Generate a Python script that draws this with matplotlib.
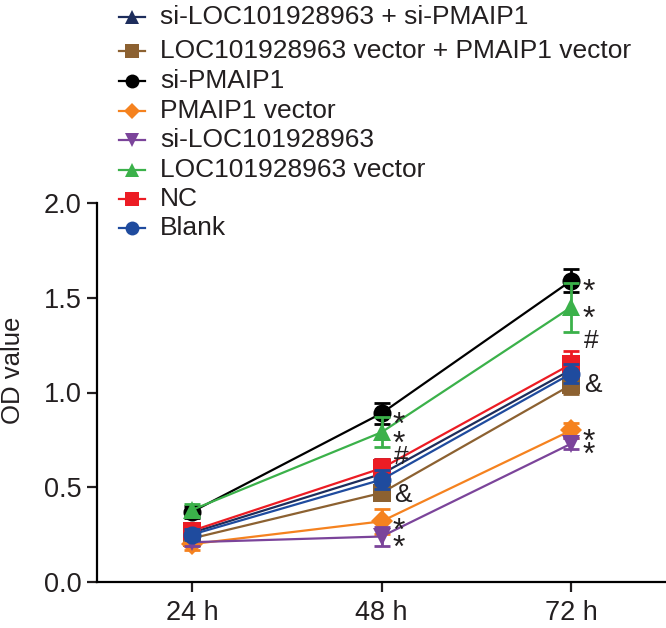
import matplotlib
matplotlib.use("Agg")
import matplotlib.pyplot as plt
from matplotlib.lines import Line2D
import numpy as np

plt.rcParams['font.family'] = ['Liberation Sans', 'DejaVu Sans']

time_labels = ["24 h", "48 h", "72 h"]

series_names = [
    "si-LOC101928963 + si-PMAIP1",
    "LOC101928963 vector + PMAIP1 vector",
    "si-PMAIP1",
    "PMAIP1 vector",
    "si-LOC101928963",
    "LOC101928963 vector",
    "NC",
    "Blank",
]

si_both = [0.26, 0.57, 1.12]
vec_both = [0.23, 0.47, 1.04]
si_pmaip1 = [0.37, 0.89, 1.59]
pmaip1_vec = [0.20, 0.32, 0.80]
si_loc = [0.21, 0.24, 0.73]
loc_vec = [0.38, 0.79, 1.45]
nc = [0.27, 0.60, 1.15]
blank = [0.25, 0.54, 1.10]

si_both_err = [0.03, 0.08, 0.06]
vec_both_err = [0.03, 0.03, 0.05]
si_pmaip1_err = [0.03, 0.055, 0.06]
pmaip1_vec_err = [0.03, 0.065, 0.04]
si_loc_err = [0.02, 0.05, 0.03]
loc_vec_err = [0.03, 0.08, 0.13]
nc_err = [0.03, 0.05, 0.07]
blank_err = [0.03, 0.05, 0.05]

values = [si_both, vec_both, si_pmaip1, pmaip1_vec, si_loc, loc_vec, nc, blank]
errors = [si_both_err, vec_both_err, si_pmaip1_err, pmaip1_vec_err,
          si_loc_err, loc_vec_err, nc_err, blank_err]

colors = ["#1d2d5c", "#8c6131", "#000000", "#f5821f", "#7b449a", "#3bb14a", "#ec1c24", "#1f4b9e"]
markers = ["^", "s", "o", "D", "v", "^", "s", "o"]
msizes = [13, 13, 13, 11, 13, 13, 13, 13]

# significance annotations: (time index, y value, symbol)
annot_time = [1, 1, 1, 1, 1, 1, 2, 2, 2, 2, 2, 2]
annot_y = [0.89, 0.79, 0.66, 0.46, 0.33, 0.24, 1.59, 1.45, 1.27, 1.04, 0.80, 0.73]
annot_sym = ["*", "*", "#", "&", "*", "*", "*", "*", "#", "&", "*", "*"]

W, H = 666, 628
fig = plt.figure(figsize=(W / 100, H / 100), dpi=100)
ax = fig.add_axes([97 / W, (H - 582) / H, (W - 97) / W, (582 - 203) / H])

x = np.arange(len(time_labels))
z = 2
for vals, errs, c, m, ms in zip(values, errors, colors, markers, msizes):
    ax.plot(x, vals, color=c, marker=m, markersize=ms, linewidth=1.6,
            markeredgewidth=0, clip_on=False, zorder=z)
    ax.errorbar(x, vals, yerr=errs, fmt='none', ecolor=c, elinewidth=2.0,
                capsize=5.5, capthick=2.0, clip_on=False, zorder=z + 0.05)
    z += 0.1

text_color = "#231f20"
for t, yv, s in zip(annot_time, annot_y, annot_sym):
    if s == "*":
        ax.annotate(s, (x[t], yv), xytext=(8, -9), textcoords="offset points",
                    fontsize=23, color=text_color, va="center", ha="left")
    else:
        ax.annotate(s, (x[t], yv), xytext=(9, 0), textcoords="offset points",
                    fontsize=19, color=text_color, va="center", ha="left")

ax.set_xlim(-0.5, 2.5)
ax.set_ylim(0, 2.0)
ax.set_yticks([0.0, 0.5, 1.0, 1.5, 2.0])
ax.set_yticklabels(["0.0", "0.5", "1.0", "1.5", "2.0"])
ax.set_xticks(x)
ax.set_xticklabels(time_labels)
ax.spines['top'].set_visible(False)
ax.spines['right'].set_visible(False)
for sp in ['left', 'bottom']:
    ax.spines[sp].set_linewidth(1.6)
ax.tick_params(axis='both', length=7, width=1.6, labelsize=19.5, colors=text_color,
               labelcolor=text_color)
ax.tick_params(axis='y', pad=4)
ax.tick_params(axis='x', pad=6)
ax.set_ylabel("OD value", fontsize=18.5, color=text_color)
ax.yaxis.set_label_coords(-(97 - 13) / (W - 97), (582 - 370) / (582 - 203))
ax.yaxis.label.set_va("center")

# legend drawn manually at the top of the figure
row_y = [17, 51, 81, 111, 140, 170, 199, 228]
for name, c, m, yy in zip(series_names, colors, markers, row_y):
    fy = 1 - yy / H
    fig.add_artist(Line2D([119 / W, 145 / W], [fy, fy], color=c, linewidth=1.6,
                          transform=fig.transFigure))
    fig.add_artist(Line2D([132 / W], [fy], color=c, marker=m,
                          markersize=10 if m != "D" else 8, markeredgewidth=0,
                          transform=fig.transFigure))
    fig.text(160 / W, fy, name, fontsize=19, color=text_color, va="center", ha="left")

fig.savefig("out.png", dpi=100)
